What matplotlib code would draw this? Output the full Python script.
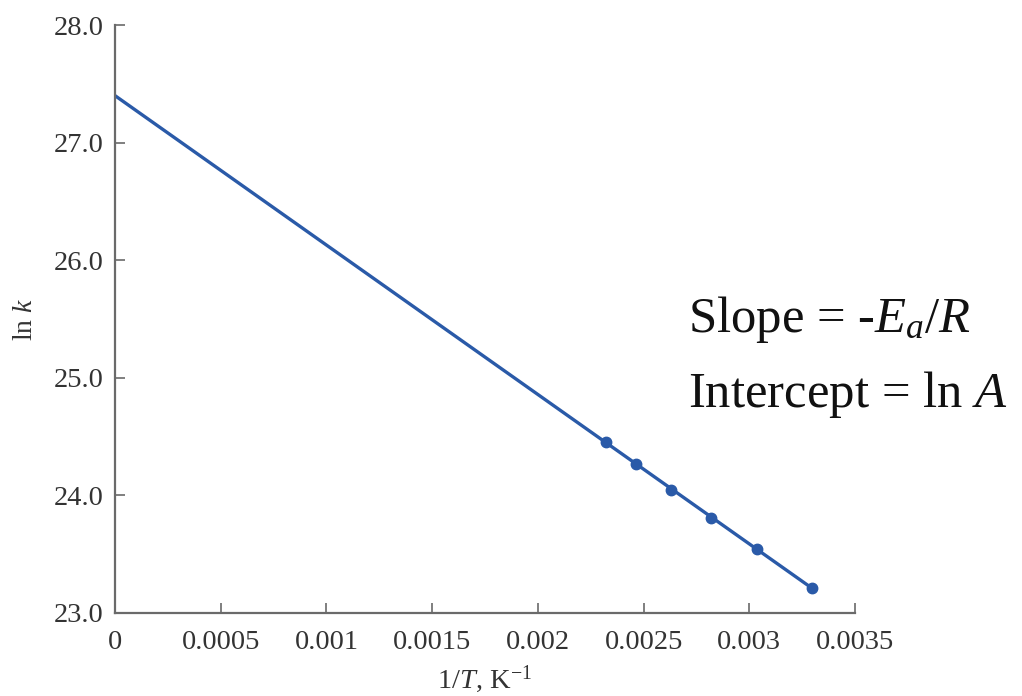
import matplotlib
matplotlib.use("Agg")
import matplotlib.pyplot as plt

# Data
inv_T = [0.002322, 0.002464, 0.002630, 0.002819, 0.003037, 0.003297]
ln_k = [24.45, 24.27, 24.05, 23.81, 23.54, 23.21]
fit_x = [0.0, 0.003297]
fit_y = [27.40, 23.21]

x_ticks = [0, 0.0005, 0.001, 0.0015, 0.002, 0.0025, 0.003, 0.0035]
x_tick_labels = ["0", "0.0005", "0.001", "0.0015", "0.002", "0.0025", "0.003", "0.0035"]
y_ticks = [23.0, 24.0, 25.0, 26.0, 27.0, 28.0]
y_tick_labels = ["23.0", "24.0", "25.0", "26.0", "27.0", "28.0"]

plt.rcParams['font.family'] = ['Liberation Serif', 'DejaVu Serif']
plt.rcParams['mathtext.fontset'] = 'custom'
plt.rcParams['mathtext.rm'] = 'Liberation Serif'
plt.rcParams['mathtext.it'] = 'Liberation Serif:italic'

fig = plt.figure(figsize=(10.22, 6.96), dpi=100)
ax = fig.add_axes([0.1125, 0.1193, 0.7241, 0.8447])

blue = '#2a5aa8'
ax.plot(fit_x, fit_y, color=blue, lw=2.4, solid_capstyle='butt')
ax.plot(inv_T, ln_k, 'o', color=blue, ms=7.5)

ax.set_xlim(0, 0.0035)
ax.set_ylim(23.0, 28.0)
ax.set_xticks(x_ticks)
ax.set_xticklabels(x_tick_labels)
ax.set_yticks(y_ticks)
ax.set_yticklabels(y_tick_labels)

spine_col = '#6a6a6a'
for s in ['top', 'right']:
    ax.spines[s].set_visible(False)
for s in ['left', 'bottom']:
    ax.spines[s].set_color(spine_col)
    ax.spines[s].set_linewidth(1.6)
ax.tick_params(direction='in', length=7, width=1.2, color=spine_col,
               labelsize=20.5, labelcolor='#333333')
ax.tick_params(axis='x', pad=12)
ax.tick_params(axis='y', pad=8)

ax.set_xlabel(r'1/$T$, K$^{-1}$', fontsize=20.5, color='#333333')
ax.xaxis.set_label_coords(0.5, -0.085)
ax.set_ylabel(r'ln $k$', fontsize=20, color='#333333')
ax.yaxis.set_label_coords(-0.104, 0.5)

fig.text(0.673, 0.523, r'Slope = -$E_a$/$R$', fontsize=36.5, color='#111111')
fig.text(0.673, 0.415, r'Intercept = ln $A$', fontsize=36.5, color='#111111')

fig.savefig('out.png', dpi=100)
